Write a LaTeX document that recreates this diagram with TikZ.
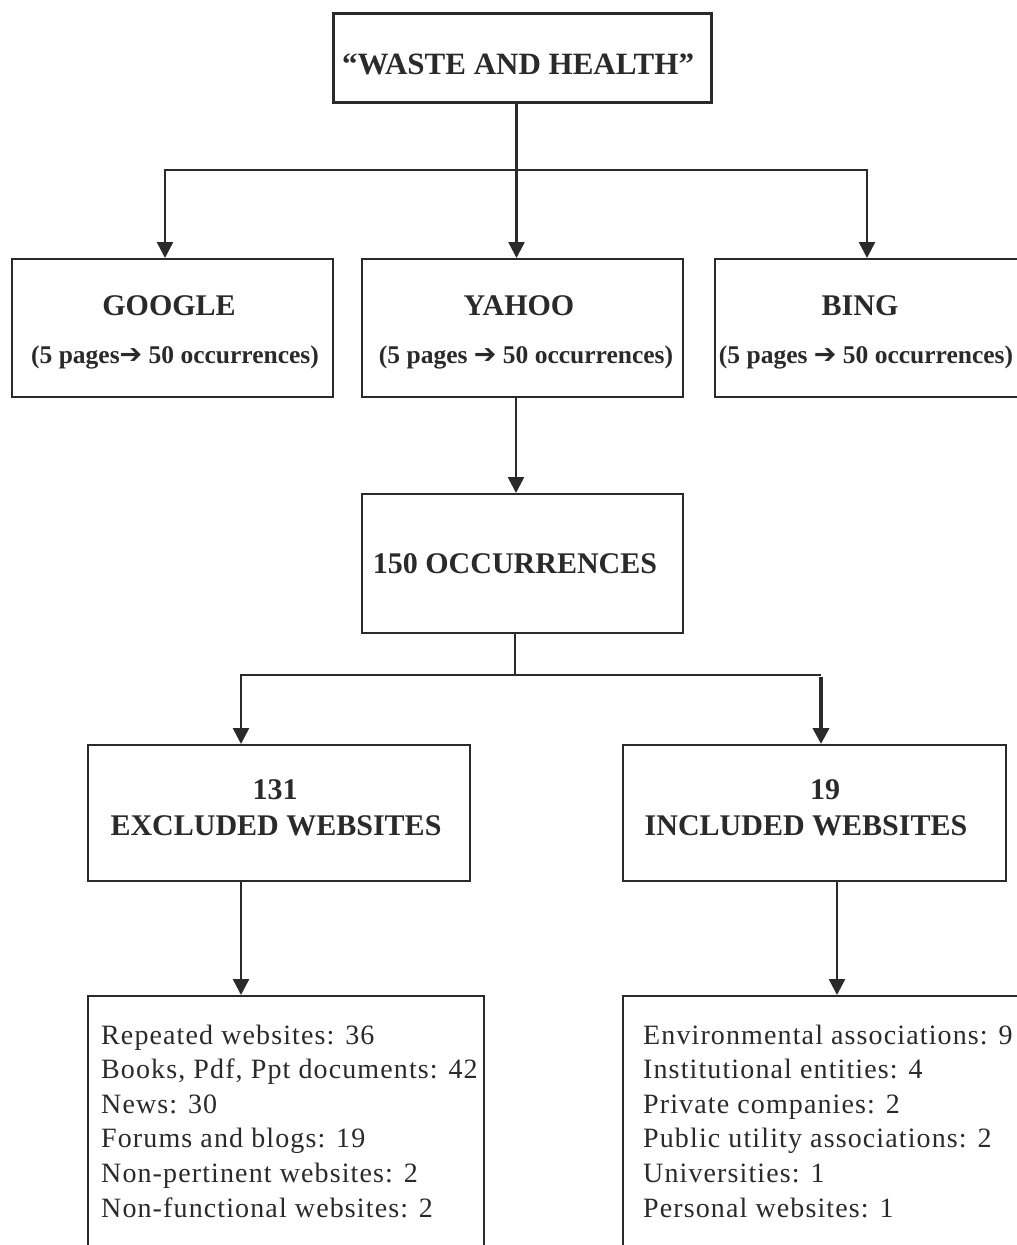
\documentclass[tikz,border=0pt]{standalone}
\usepackage{fontspec}
\setmainfont{Liberation Serif}
\newfontfamily\arrowfont{DejaVu Sans}
\usetikzlibrary{arrows.meta}
\definecolor{ink}{RGB}{42,42,42}
\newcommand{\bigarrow}{{\arrowfont\bfseries\fontsize{27}{30}\selectfont ➔}}
\begin{document}
\begin{tikzpicture}[x=1pt,y=-1pt,
  box/.style={draw=ink, line width=2pt, rectangle, inner sep=0pt, anchor=north west},
  conn/.style={draw=ink, line width=2.5pt},
  arr/.style={conn, -{Triangle[length=16pt,width=16pt]}},
  ttl/.style={text=ink, font=\bfseries\fontsize{30}{36}\selectfont, inner sep=0pt, anchor=base},
  sub/.style={text=ink, font=\bfseries\fontsize{25.5}{30}\selectfont, inner sep=0pt, anchor=base},
  lst/.style={text=ink, font=\fontsize{28}{34}\selectfont\addfontfeature{LetterSpace=4}, inner sep=0pt, anchor=base west},
]
\useasboundingbox (0,0) rectangle (1017,1245);
\fill[white] (0,0) rectangle (1017,1245);
\clip (0,0) rectangle (1017,1245);

% boxes
\node[box, line width=3pt, minimum width=378pt, minimum height=89pt] (top) at (332,11.5) {};
\node[box, minimum width=321pt, minimum height=138pt] (google) at (11,258) {};
\node[box, minimum width=321pt, minimum height=138pt] (yahoo) at (361,258) {};
\node[box, minimum width=321pt, minimum height=138pt] (bing) at (714,258) {};
\node[box, minimum width=321pt, minimum height=139pt] (occ) at (361,493) {};
\node[box, minimum width=382pt, minimum height=136pt] (excl) at (87,744) {};
\node[box, minimum width=383pt, minimum height=136pt] (incl) at (622,744) {};
\node[box, minimum width=396pt, minimum height=300pt] (lbox) at (87,995) {};
\node[box, minimum width=450pt, minimum height=300pt] (rbox) at (622,995) {};

% texts
\node[ttl, font=\bfseries\fontsize{31}{38}\selectfont] (toptxt) at (518,74) {“WASTE AND HEALTH”};
\node[ttl] (gt) at (169,315) {GOOGLE};
\node[sub] (gs) at (175,363) {(5 pages\bigarrow{} 50 occurrences)};
\node[ttl] (yt) at (519,315) {YAHOO};
\node[sub] (ys) at (526,363) {(5 pages \bigarrow{} 50 occurrences)};
\node[ttl] (bt) at (860,315) {BING};
\node[sub] (bs) at (866,363) {(5 pages \bigarrow{} 50 occurrences)};
\node[ttl] (ot) at (515,573) {150 OCCURRENCES};
\node[ttl] (et1) at (275,799) {131};
\node[ttl] (et2) at (276,835) {EXCLUDED WEBSITES};
\node[ttl] (it1) at (825,799) {19};
\node[ttl] (it2) at (806,835) {INCLUDED WEBSITES};

\foreach \t [count=\i] in {Repeated websites: 36, {Books, Pdf, Ppt documents: 42}, News: 30, Forums and blogs: 19, Non-pertinent websites: 2, Non-functional websites: 2}
  \node[lst] (ex\i) at (101,{1044+34.6*(\i-1)}) {\t};
\foreach \t [count=\i] in {Environmental associations: 9, Institutional entities: 4, Private companies: 2, Public utility associations: 2, Universities: 1, Personal websites: 1}
  \node[lst] (in\i) at (643,{1044+34.6*(\i-1)}) {\t};

% connectors
\coordinate (j1) at ([xshift=-6pt]top.south);
\coordinate (bar1) at (515,170);
\draw[arr] (j1) -- (j1 |- yahoo.north);
\draw[arr] (bar1) -| ([xshift=-7.5pt]google.north);
\draw[arr] (bar1) -| ([xshift=-8.5pt]bing.north);
\draw[arr] ([xshift=-6.5pt]yahoo.south) -- ([xshift=-6.5pt]occ.north);
\coordinate (bar2) at (515,675);
\coordinate (ea) at ([xshift=-38pt]excl.north);
\coordinate (ia) at ([xshift=6.5pt]incl.north);
\draw[conn] (bar2 |- occ.south) -- (bar2);
\draw[arr] (bar2) -| (ea);
\draw[conn] (bar2) -- (bar2 -| ia);
\draw[arr, line width=3.8pt] ([yshift=-1.5pt]bar2 -| ia) -- (ia);
\coordinate (eb) at ([xshift=-38pt]excl.south);
\coordinate (ib) at ([xshift=22.5pt]incl.south);
\draw[arr] (eb) -- (eb |- lbox.north);
\draw[arr] (ib) -- (ib |- rbox.north);
\end{tikzpicture}
\end{document}
